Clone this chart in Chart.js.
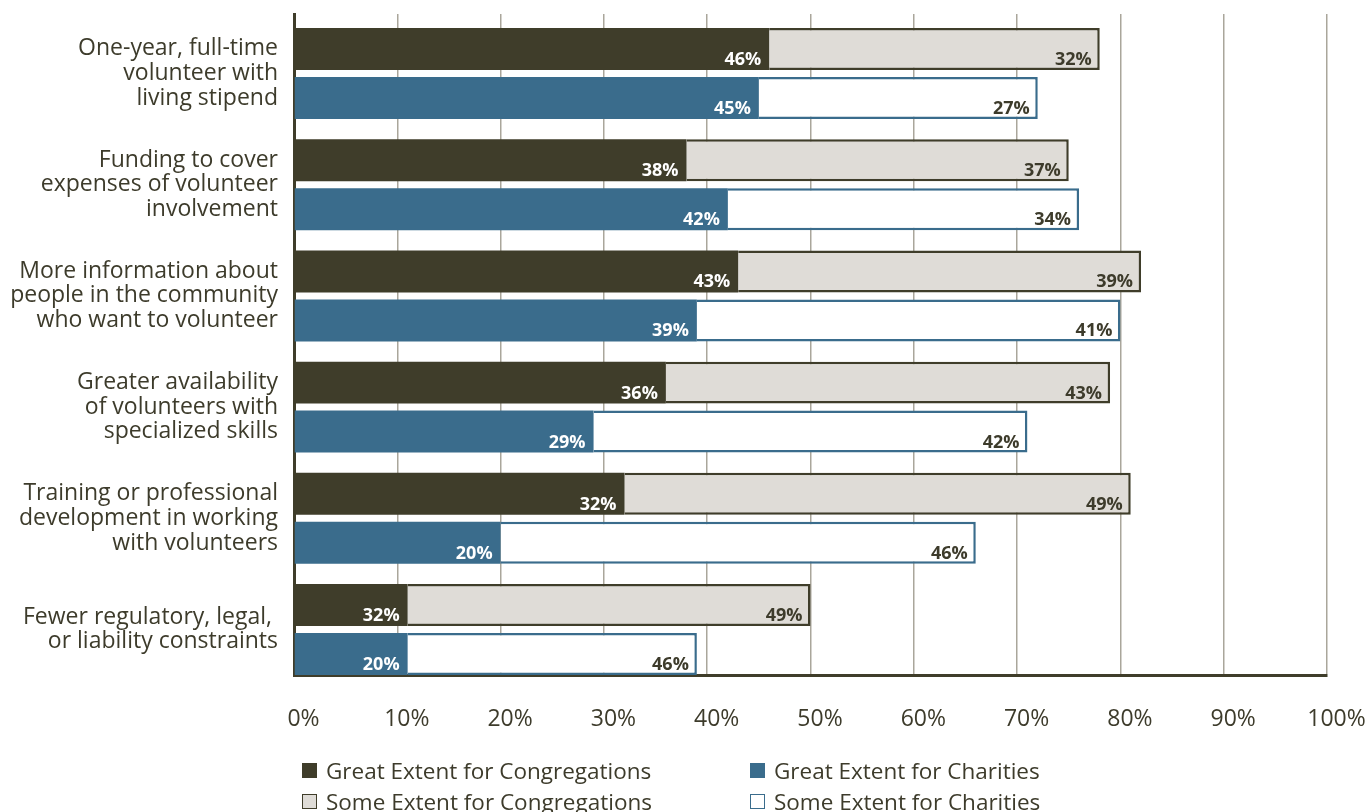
<!DOCTYPE html>
<html><head><meta charset="utf-8">
<script src="https://cdn.jsdelivr.net/npm/chart.js@4.4.1/dist/chart.umd.min.js"></script>
<style>
html,body{margin:0;padding:0;background:#fff;}
#wrap{position:relative;width:1371px;height:812px;overflow:hidden;}
#c{position:absolute;left:0;top:0;}
#legend{position:absolute;left:302px;top:757px;display:grid;grid-template-columns:448px 400px;row-gap:5px;font-family:"Open Sans";font-size:22.5px;color:#3d3b2b;}
.item{display:flex;align-items:center;height:26px;white-space:nowrap}
.sw{width:13px;height:13px;border:1.5px solid;margin-right:9px;box-sizing:content-box;flex:none}
</style></head>
<body><div id="wrap"><canvas id="c" width="1371" height="812"></canvas><div id="legend"></div></div>
<script>
const categories = [
  ["One-year, full-time", "volunteer with", "living stipend"],
  ["Funding to cover", "expenses of volunteer", "involvement"],
  ["More information about", "people in the community", "who want to volunteer"],
  ["Greater availability", "of volunteers with", "specialized skills"],
  ["Training or professional", "development in working", "with volunteers"],
  ["Fewer regulatory, legal, ", "or liability constraints"]
];
const greatCong = [46, 38, 43, 36, 32, 11];
const someCong  = [32, 37, 39, 43, 49, 39];
const greatChar = [45, 42, 39, 29, 20, 11];
const someChar  = [27, 34, 41, 42, 46, 28];
const greatCongLabels = ["46%", "38%", "43%", "36%", "32%", "32%"];
const someCongLabels  = ["32%", "37%", "39%", "43%", "49%", "49%"];
const greatCharLabels = ["45%", "42%", "39%", "29%", "20%", "20%"];
const someCharLabels  = ["27%", "34%", "41%", "42%", "46%", "46%"];
const seriesNames = ["Great Extent for Congregations", "Some Extent for Congregations", "Great Extent for Charities", "Some Extent for Charities"];
const xTickValues = [0, 10, 20, 30, 40, 50, 60, 70, 80, 90, 100];

const TEXT = '#3d3b2b';
const DARK = '#3f3d2a';
const LIGHT = '#dfdcd7';
const BLUE = '#3a6c8c';
const FONT = '"Open Sans", "Noto Sans", sans-serif';

const datasets = [
  {label: seriesNames[0], data: greatCong, valueLabels: greatCongLabels, stack: 'cong', backgroundColor: DARK, borderColor: DARK, borderWidth: 0, labelColor: '#ffffff'},
  {label: seriesNames[1], data: someCong, valueLabels: someCongLabels, stack: 'cong', backgroundColor: LIGHT, borderColor: DARK, borderWidth: 2.5, labelColor: TEXT},
  {label: seriesNames[2], data: greatChar, valueLabels: greatCharLabels, stack: 'char', backgroundColor: BLUE, borderColor: BLUE, borderWidth: 0, labelColor: '#ffffff'},
  {label: seriesNames[3], data: someChar, valueLabels: someCharLabels, stack: 'char', backgroundColor: '#ffffff', borderColor: BLUE, borderWidth: 2.5, labelColor: TEXT}
];
datasets.forEach(d => { d.categoryPercentage = 0.881; d.barPercentage = 0.857; d.borderSkipped = 'start'; });

const valueLabelPlugin = {
  id: 'valueLabels',
  afterDatasetsDraw(chart) {
    const ctx = chart.ctx;
    ctx.save();
    ctx.font = 'bold 18px ' + FONT;
    ctx.textAlign = 'right';
    ctx.textBaseline = 'alphabetic';
    chart.data.datasets.forEach((ds, i) => {
      const meta = chart.getDatasetMeta(i);
      ctx.fillStyle = ds.labelColor;
      meta.data.forEach((bar, j) => {
        const p = bar.getProps(['x', 'y', 'height'], true);
        ctx.fillText(ds.valueLabels[j], p.x - 8, p.y + p.height / 2 - 5);
      });
    });
    ctx.restore();
  }
};

function zeroPad(s) { s.paddingTop = 0; s.paddingBottom = 0; s.paddingLeft = 0; s.paddingRight = 0; }

function build() {
  new Chart(document.getElementById('c'), {
    type: 'bar',
    data: {labels: categories, datasets},
    plugins: [valueLabelPlugin],
    options: {
      indexAxis: 'y',
      responsive: false,
      animation: false,
      devicePixelRatio: window.devicePixelRatio || 1,
      layout: {padding: {top: 14, right: 44, bottom: 0, left: 0}},
      plugins: {legend: {display: false}, tooltip: {enabled: false}},
      scales: {
        x: {
          stacked: true, min: 0, max: 100,
          afterBuildTicks: s => { s.ticks = xTickValues.map(v => ({value: v})); },
          afterFit: s => { s.height = 137; zeroPad(s); },
          grid: {color: '#aaa69b', lineWidth: 1.5, drawTicks: false},
          border: {display: true, color: DARK, width: 3},
          ticks: {color: TEXT, font: {family: FONT, size: 23}, padding: 31, labelOffset: 9.5, callback: v => v + '%', maxRotation: 0}
        },
        y: {
          stacked: true,
          afterBuildTicks: s => { s._startValue = -0.535; s._valueRange = 5.944; },
          afterFit: s => { s.width = 294; zeroPad(s); },
          grid: {display: false, drawTicks: false},
          border: {display: true, color: DARK, width: 3},
          ticks: {color: TEXT, font: {family: FONT, size: 23, lineHeight: 1.075}, padding: 16, autoSkip: false}
        }
      }
    }
  });
  const legend = document.getElementById('legend');
  [0, 2, 1, 3].forEach(i => {
    const d = datasets[i];
    const item = document.createElement('div');
    item.className = 'item';
    const sw = document.createElement('span');
    sw.className = 'sw';
    sw.style.background = d.backgroundColor;
    sw.style.borderColor = d.borderColor;
    item.appendChild(sw);
    item.appendChild(document.createTextNode(d.label));
    legend.appendChild(item);
  });
}
document.fonts.load('23px "Open Sans"').then(() => document.fonts.load('bold 18px "Open Sans"')).then(build, build);
</script>
</body></html>
